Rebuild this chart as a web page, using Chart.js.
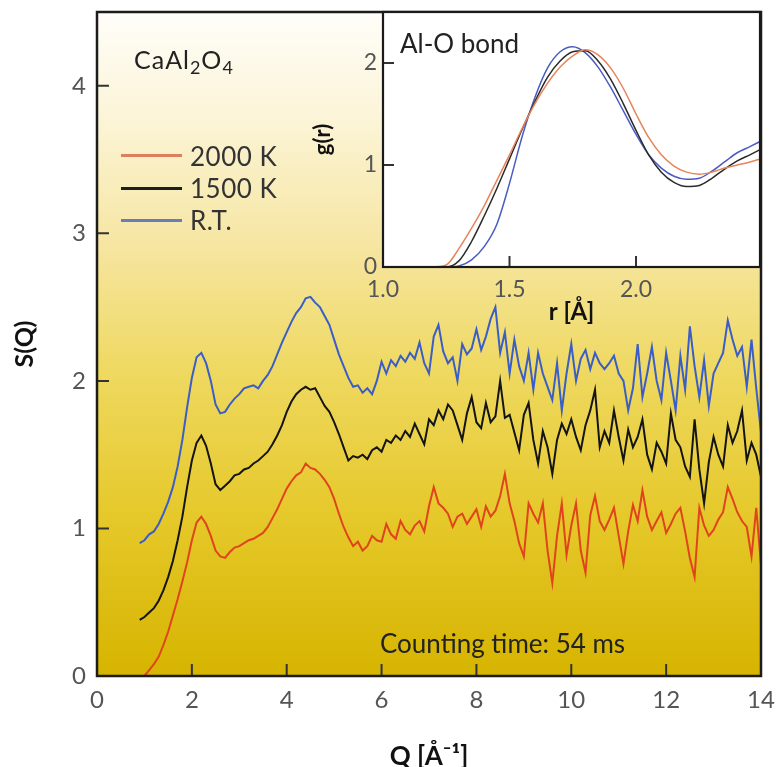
<!DOCTYPE html>
<html><head><meta charset="utf-8">
<script src="https://cdn.jsdelivr.net/npm/chart.js@4.4.1/dist/chart.umd.min.js"></script>
<style>
body{margin:0;background:#fff;}
#wrap{position:relative;width:778px;height:767px;overflow:hidden;font-family:Lato,"Open Sans",sans-serif;}
canvas{position:absolute;}
.t{position:absolute;white-space:nowrap;color:#222;line-height:1;}
.t sub{font-size:0.72em;vertical-align:-0.28em;line-height:0;}
.sw{position:absolute;height:2.5px;width:61px;}
</style></head><body>
<div id="wrap">
<canvas id="main" width="778" height="767" style="left:0;top:0"></canvas>
<canvas id="inset" width="478" height="330" style="left:300px;top:0"></canvas>
<div class="t" style="left:134px;top:47px;font-size:25px;letter-spacing:1px;">CaAl<sub>2</sub>O<sub>4</sub></div>
<div class="sw" id="sw0" style="left:121px;top:154px;"></div>
<div class="sw" id="sw1" style="left:121px;top:187px;"></div>
<div class="sw" id="sw2" style="left:121px;top:219px;"></div>
<div class="t" id="lg0" style="left:190px;top:143px;font-size:26px;letter-spacing:0.5px;color:#333;"></div>
<div class="t" id="lg1" style="left:190px;top:175px;font-size:26px;letter-spacing:0.5px;color:#333;"></div>
<div class="t" id="lg2" style="left:190px;top:207px;font-size:26px;letter-spacing:0.5px;color:#333;"></div>
<div class="t" style="left:400px;top:30px;font-size:26px;">Al-O bond</div>
<div class="t" style="left:380px;top:630px;font-size:26px;">Counting time: 54 ms</div>
</div>
<script>
// ---------- main chart data: S(Q) ----------
const seriesLabels = ['2000 K', '1500 K', 'R.T.'];
const qValues = [0.9,1.0,1.1,1.2,1.3,1.4,1.5,1.6,1.7,1.8,1.9,2.0,2.1,2.2,2.3,2.4,2.5,2.6,2.7,2.8,2.9,
3.0,3.1,3.2,3.3,3.4,3.5,3.6,3.7,3.8,3.9,4.0,4.1,4.2,4.3,4.4,4.5,4.6,4.7,4.8,4.9,
5.0,5.1,5.2,5.3,5.4,5.5,5.6,5.7,5.8,5.9,6.0,6.1,6.2,6.3,6.4,6.5,6.6,6.7,6.8,6.9,
7.0,7.1,7.2,7.3,7.4,7.5,7.6,7.7,7.8,7.9,8.0,8.1,8.2,8.3,8.4,8.5,8.6,8.7,8.8,8.9,
9.0,9.1,9.2,9.3,9.4,9.5,9.6,9.7,9.8,9.9,10.0,10.1,10.2,10.3,10.4,10.5,10.6,10.7,10.8,10.9,
11.0,11.1,11.2,11.3,11.4,11.5,11.6,11.7,11.8,11.9,12.0,12.1,12.2,12.3,12.4,12.5,12.6,12.7,12.8,12.9,
13.0,13.1,13.2,13.3,13.4,13.5,13.6,13.7,13.8,13.9,14.0];
const sRT = [0.90,0.92,0.96,0.98,1.03,1.10,1.18,1.28,1.42,1.60,1.82,2.02,2.16,2.19,2.12,2.00,1.84,1.78,1.79,1.84,1.88,
1.91,1.95,1.96,1.97,1.95,2.00,2.04,2.10,2.18,2.26,2.33,2.40,2.46,2.50,2.56,2.57,2.53,2.50,2.44,2.38,
2.28,2.18,2.10,2.02,1.96,1.97,1.92,1.95,1.91,2.00,2.13,2.05,2.14,2.10,2.17,2.13,2.19,2.15,2.26,2.12,
2.05,2.30,2.38,2.20,2.12,2.16,2.00,2.25,2.18,2.22,2.35,2.21,2.30,2.42,2.50,2.19,2.33,2.05,2.28,2.10,
2.00,2.19,1.94,2.19,2.05,1.96,1.87,2.12,1.80,2.05,2.25,2.00,2.15,2.21,2.08,2.19,2.12,2.08,2.12,2.17,
2.05,2.00,1.80,1.95,2.25,1.89,2.05,2.23,2.00,1.87,2.19,2.00,1.80,2.17,1.94,2.37,2.10,1.89,2.14,1.83,
2.05,2.12,2.19,2.41,2.28,2.17,2.23,1.96,2.28,1.95,1.65];
const s1500 = [0.38,0.40,0.43,0.46,0.51,0.58,0.67,0.78,0.92,1.08,1.28,1.46,1.58,1.63,1.56,1.44,1.30,1.26,1.29,1.32,1.36,
1.37,1.40,1.41,1.44,1.46,1.49,1.52,1.57,1.63,1.70,1.79,1.86,1.91,1.94,1.96,1.94,1.95,1.89,1.83,1.79,
1.72,1.64,1.55,1.46,1.49,1.48,1.50,1.47,1.53,1.55,1.52,1.60,1.58,1.63,1.60,1.66,1.62,1.71,1.64,1.57,
1.74,1.70,1.80,1.74,1.84,1.80,1.70,1.60,1.78,1.89,1.72,1.68,1.85,1.72,1.76,2.00,1.75,1.77,1.65,1.53,
1.77,1.85,1.60,1.44,1.66,1.55,1.37,1.60,1.71,1.64,1.74,1.62,1.53,1.70,1.80,1.94,1.55,1.66,1.58,1.80,
1.62,1.46,1.67,1.55,1.62,1.74,1.50,1.40,1.58,1.52,1.44,1.78,1.60,1.55,1.42,1.35,1.74,1.40,1.17,1.45,
1.62,1.50,1.42,1.70,1.58,1.66,1.80,1.46,1.58,1.50,1.35];
const s2000 = [null,0.00,0.04,0.08,0.13,0.21,0.30,0.41,0.52,0.64,0.77,0.92,1.04,1.08,1.03,0.95,0.85,0.81,0.80,0.84,0.87,
0.88,0.90,0.92,0.93,0.95,0.97,1.01,1.07,1.13,1.20,1.27,1.32,1.36,1.38,1.44,1.41,1.40,1.37,1.33,1.28,
1.20,1.10,1.01,0.94,0.88,0.91,0.85,0.88,0.95,0.92,0.91,1.03,0.96,0.93,1.05,0.99,0.96,1.02,1.05,0.98,
1.15,1.28,1.17,1.14,1.10,1.01,1.08,1.10,1.03,1.08,1.13,1.01,1.15,1.08,1.12,1.22,1.37,1.17,1.05,0.90,
0.81,1.17,1.10,1.04,1.17,0.85,0.63,0.95,1.17,0.82,1.02,1.17,0.85,0.70,1.09,1.22,1.05,0.99,1.06,1.14,
0.95,0.76,0.98,1.16,1.05,1.26,1.08,0.99,1.05,1.11,0.97,1.03,1.10,1.14,0.98,0.80,0.67,1.14,1.02,0.95,
0.99,1.06,1.11,1.28,1.20,1.11,1.05,1.01,0.81,1.14,0.75];
const xTickStep = 2;
const yTickStep = 1;

// ---------- inset data: g(r), Al-O bond ----------
const rValues = [1.20,1.25,1.30,1.35,1.40,1.45,1.50,1.55,1.60,1.65,1.70,1.75,1.80,1.85,1.90,1.95,2.00,2.05,2.10,2.15,2.20,2.25,2.30,2.35,2.40,2.45,2.49];
const g2000 = [0,0.02,0.18,0.38,0.60,0.85,1.10,1.36,1.60,1.80,1.96,2.07,2.13,2.08,1.95,1.75,1.50,1.27,1.10,0.99,0.93,0.91,0.93,0.97,1.00,1.03,1.06];
const g1500 = [0,0,0.06,0.25,0.50,0.77,1.06,1.35,1.62,1.86,2.02,2.11,2.12,2.02,1.84,1.60,1.34,1.10,0.93,0.83,0.79,0.80,0.87,0.96,1.04,1.10,1.15];
const gRT   = [0,0,0.01,0.07,0.20,0.42,0.82,1.28,1.66,1.95,2.11,2.16,2.10,1.96,1.76,1.53,1.30,1.10,0.97,0.89,0.86,0.87,0.94,1.03,1.12,1.18,1.23];

// ---------- styles ----------
const mainColors = ['#e0441c', '#141414', '#3a5ec6'];
const legendColors = ['#dc7f5c', '#1e1e1e', '#6a7cba'];
const insetColors = ['#e8845a', '#2a2a2a', '#4a5cc2'];
const FONT = 'Lato, "Open Sans", sans-serif';

seriesLabels.forEach((l,i)=>{
  document.getElementById('lg'+i).textContent = l;
  document.getElementById('sw'+i).style.background = legendColors[i];
});

const frameTicks = {
  id: 'frameTicks',
  beforeDatasetsDraw(chart, args, o) {
    const {ctx, chartArea: a} = chart;
    ctx.save();
    if (o.gradient) {
      const g = ctx.createLinearGradient(0, a.top, 0, a.bottom);
      o.gradient.forEach(s => g.addColorStop(s[0], s[1]));
      ctx.fillStyle = g;
    } else ctx.fillStyle = o.bg;
    ctx.fillRect(a.left, a.top, a.right - a.left, a.bottom - a.top);
    ctx.restore();
  },
  afterDraw(chart, args, o) {
    const {ctx, chartArea: a, scales} = chart;
    ctx.save();
    ctx.strokeStyle = o.tickColor; ctx.lineWidth = o.tickWidth;
    ctx.beginPath();
    scales.x.ticks.forEach(t => {
      const p = scales.x.getPixelForValue(t.value);
      if (p <= a.left + 2 || p >= a.right - 2) return;
      ctx.moveTo(p, a.bottom); ctx.lineTo(p, a.bottom - o.len);
    });
    scales.y.ticks.forEach(t => {
      const p = scales.y.getPixelForValue(t.value);
      if (p >= a.bottom - 2 || p <= a.top + 2) return;
      ctx.moveTo(a.left, p); ctx.lineTo(a.left + o.len, p);
    });
    ctx.stroke();
    ctx.strokeStyle = o.frameColor; ctx.lineWidth = o.frameWidth;
    ctx.strokeRect(a.left, a.top, a.right - a.left, a.bottom - a.top);
    ctx.restore();
  }
};
function fixX(h) { return s => { s.height = h; s.paddingLeft = 0; s.paddingRight = 0; }; }
function fixY(w) { return s => { s.width = w; s.paddingTop = 0; s.paddingBottom = 0; }; }

const mainSeries = [s2000, s1500, sRT];
new Chart(document.getElementById('main'), {
  type: 'line',
  data: {
    datasets: [2,1,0].map(i => ({
      label: seriesLabels[i],
      data: qValues.map((q, k) => ({x: q, y: mainSeries[i][k]})),
      borderColor: mainColors[i],
      borderWidth: 2,
      pointRadius: 0,
      tension: 0,
      fill: false
    }))
  },
  options: {
    responsive: false, animation: false, devicePixelRatio: 1,
    layout: {padding: {top: 12, right: 17, left: 0, bottom: 0}},
    plugins: {
      legend: {display: false}, tooltip: {enabled: false},
      frameTicks: {
        gradient: [[0,'#fffef9'],[0.15,'#fcf5da'],[0.35,'#f6e6a2'],[0.55,'#eed85e'],[0.75,'#e6c92c'],[1,'#d6b400']],
        tickColor: '#333', tickWidth: 2, len: 12, frameColor: '#1c1c1c', frameWidth: 2.5
      }
    },
    scales: {
      x: {
        type: 'linear', min: 0, max: 14,
        afterFit: fixX(91),
        grid: {display: false, drawTicks: false}, border: {display: false},
        ticks: {stepSize: xTickStep, autoSkip: false, includeBounds: false, padding: 10, color: '#555', font: {family: FONT, size: 24}, maxRotation: 0},
        title: {display: true, text: 'Q [Å⁻¹]', color: '#111', font: {family: FONT, size: 26, weight: 'bold'}, padding: {top: 0, bottom: -5}}
      },
      y: {
        type: 'linear', min: 0, max: 4.5,
        afterFit: fixY(97),
        grid: {display: false, drawTicks: false}, border: {display: false},
        ticks: {stepSize: yTickStep, autoSkip: false, includeBounds: false, padding: 11, color: '#555', font: {family: FONT, size: 24}},
        title: {display: true, text: 'S(Q)', color: '#111', font: {family: FONT, size: 25, weight: 'bold'}, padding: {top: 10, bottom: 0}}
      }
    }
  },
  plugins: [frameTicks]
});

const insetSeries = [g2000, g1500, gRT];
new Chart(document.getElementById('inset'), {
  type: 'line',
  data: {
    datasets: [0,1,2].map(i => ({
      label: seriesLabels[i],
      data: rValues.map((r, k) => ({x: r, y: insetSeries[i][k]})),
      borderColor: insetColors[i],
      borderWidth: 1.5,
      pointRadius: 0,
      cubicInterpolationMode: 'monotone',
      fill: false
    }))
  },
  options: {
    responsive: false, animation: false, devicePixelRatio: 1,
    layout: {padding: {top: 12, right: 18, left: 0, bottom: 0}},
    plugins: {
      legend: {display: false}, tooltip: {enabled: false},
      frameTicks: {bg: '#ffffff', tickColor: '#333', tickWidth: 2, len: 11, frameColor: '#1a1a1a', frameWidth: 2.2}
    },
    scales: {
      x: {
        type: 'linear', min: 1.0, max: 2.49,
        afterFit: fixX(63),
        grid: {display: false, drawTicks: false}, border: {display: false},
        ticks: {stepSize: 0.5, autoSkip: false, includeBounds: false, padding: 9, color: '#555', font: {family: FONT, size: 23}, maxRotation: 0, callback: v => v.toFixed(1)},
        title: {display: true, text: 'r [Å]', color: '#111', font: {family: FONT, size: 24, weight: 'bold'}, padding: {top: 0, bottom: 3}}
      },
      y: {
        type: 'linear', min: 0, max: 2.5,
        afterFit: fixY(83),
        grid: {display: false, drawTicks: false}, border: {display: false},
        ticks: {stepSize: 1, autoSkip: false, includeBounds: false, padding: 6, color: '#555', font: {family: FONT, size: 23}},
        title: {display: true, text: 'g(r)', color: '#111', font: {family: FONT, size: 22, weight: 'bold'}, padding: {top: 10, bottom: 0}}
      }
    }
  },
  plugins: [frameTicks]
});
</script>
</body></html>
